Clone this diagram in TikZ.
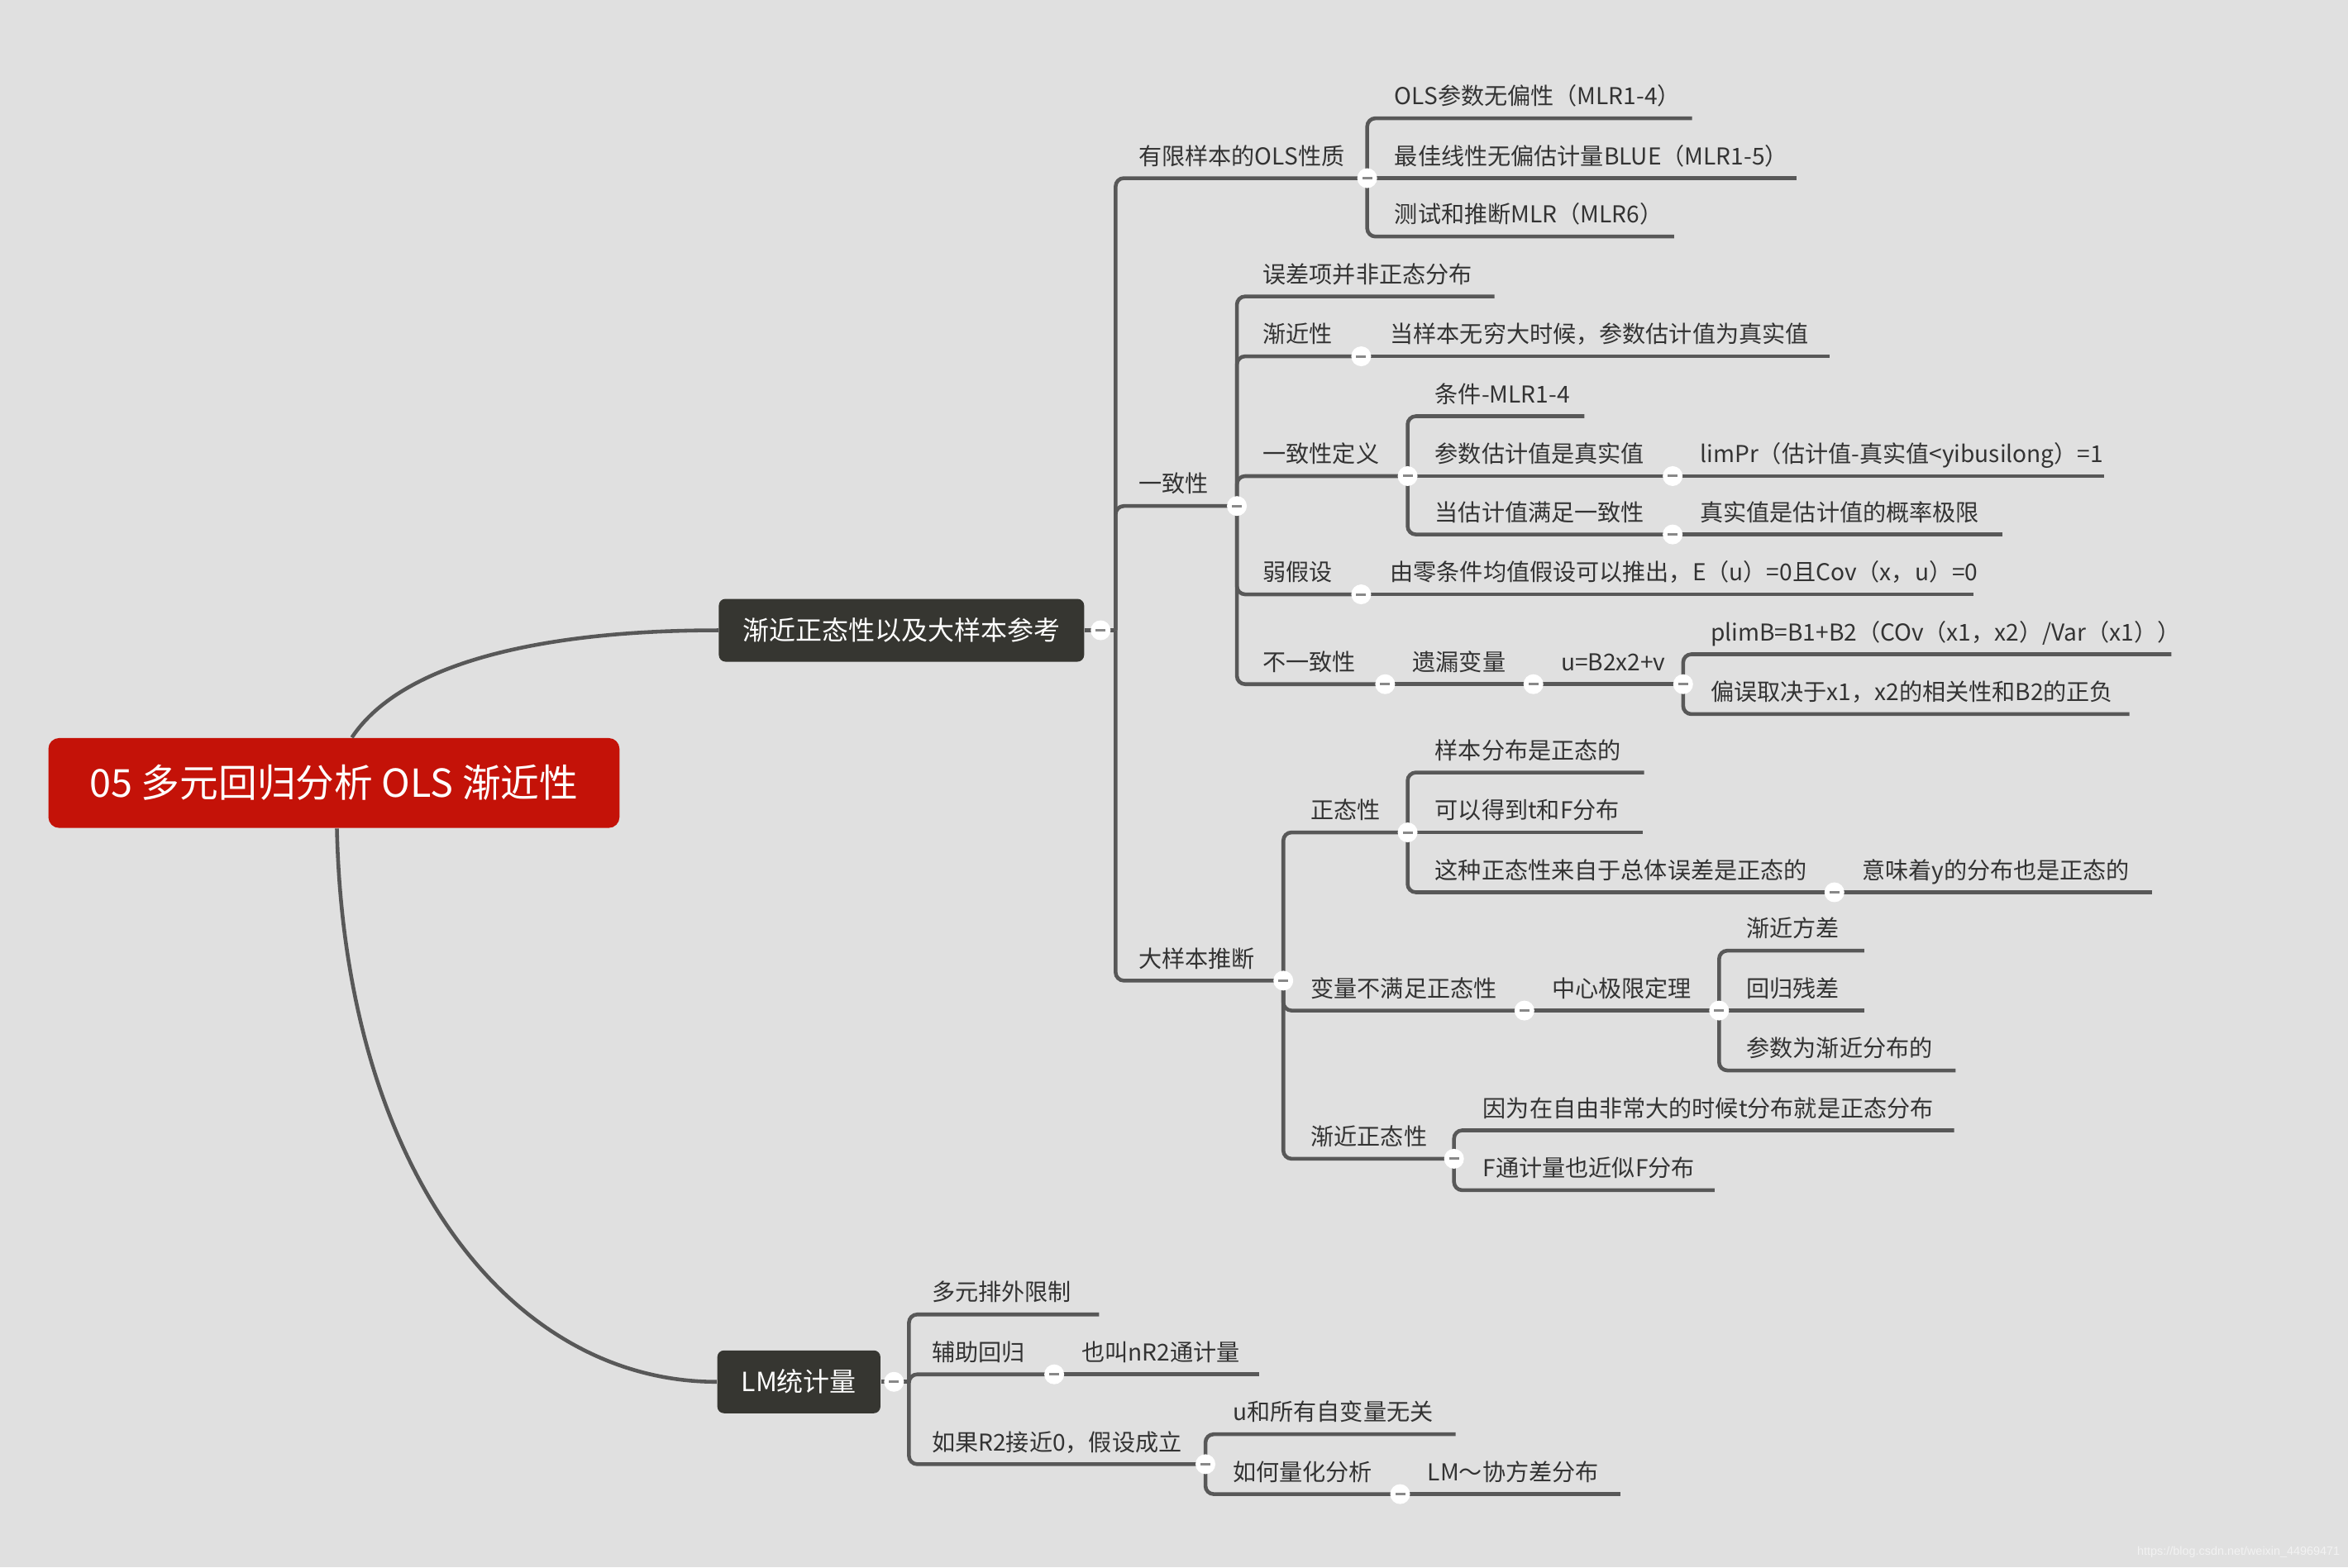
\documentclass[tikz,border=0pt]{standalone}
\usepackage{fontspec}
\setmainfont{Noto Sans CJK SC}
\newfontfamily\wmfont{Liberation Sans}
\usetikzlibrary{positioning}

\definecolor{bgcol}{RGB}{224,224,224}
\definecolor{linecol}{RGB}{88,88,88}
\definecolor{txtcol}{RGB}{51,51,51}
\definecolor{rootred}{RGB}{196,18,8}
\definecolor{topicdark}{RGB}{54,54,49}
\definecolor{dashcol}{RGB}{136,136,136}
\definecolor{wmcol}{RGB}{242,242,242}

\begin{document}
\begin{tikzpicture}[
  x=0.018112cm, y=-0.018112cm,
  root/.style={rectangle, rounded corners=0.13cm, fill=rootred, text=white,
               font=\fontsize{13.3}{16}\selectfont, minimum height=1.087cm, inner xsep=0.5cm},
  topic/.style={rectangle, rounded corners=0.08cm, fill=topicdark, text=white,
                font=\fontsize{9.1}{11}\selectfont, minimum height=0.76cm, inner xsep=0.29cm},
  lbl/.style={anchor=base west, inner sep=0pt, yshift=0.163cm, text=txtcol,
              font=\fontsize{8}{10}\selectfont},
  link/.style={draw=linecol, line width=1.3pt, rounded corners=0.1cm},
  curve/.style={draw=linecol, line width=1.3pt},
  mk/.style={circle, fill=white, minimum size=0.24cm, inner sep=0pt,
             path picture={\fill[dashcol] ([xshift=-0.06cm,yshift=-0.015cm]path picture bounding box.center)
                           rectangle ([xshift=0.06cm,yshift=0.015cm]path picture bounding box.center);}},
  wm/.style={text=wmcol, font=\wmfont\fontsize{4.1}{5}\selectfont, inner sep=0pt}
]
  % canvas
  \fill[bgcol] (0,0) rectangle (1568,1047);
  \useasboundingbox (0,0) rectangle (1568,1047);

  % central topic and main branches
  \node[root] (root) at (223,523) {05 多元回归分析 OLS 渐近性};
  \node[topic] (asym) at (602,421) {渐近正态性以及大样本参考};
  \node[topic] (lmstat) at (533.5,923) {LM统计量};

  \draw[curve] ([xshift=0.217cm]root.north) .. controls (270,440) and (370,421) .. (asym.west);
  \draw[curve] ([xshift=0.036cm]root.south) .. controls (230,780) and (340,923) .. (lmstat.west);

  % collapse points
  \coordinate (asym-m) at (735,421);   \coordinate (asym-t) at (745,421);
  \coordinate (lmstat-m) at (597,923); \coordinate (lmstat-t) at (607,923);

  % finite sample properties
  \node[lbl] (finite) at (760,119) {有限样本的OLS性质};      \coordinate (finite-m) at (913,119);
  \node[lbl] (unbiased) at (931,79) {OLS参数无偏性（MLR1-4）}; \coordinate (unbiased-e) at (1130,79);
  \node[lbl] (blue) at (931,119) {最佳线性无偏估计量BLUE（MLR1-5）}; \coordinate (blue-e) at (1200,119);
  \node[lbl] (testing) at (931,158) {测试和推断MLR（MLR6）};   \coordinate (testing-e) at (1118,158);

  % consistency
  \node[lbl] (consist) at (760,338) {一致性};                 \coordinate (consist-m) at (826,338);
  \node[lbl] (errnn) at (843,198) {误差项并非正态分布};        \coordinate (errnn-e) at (998,198);
  \node[lbl] (asymp) at (843,238) {渐近性};                   \coordinate (asymp-m) at (909,238);
  \node[lbl] (asympval) at (928,238) {当样本无穷大时候，参数估计值为真实值}; \coordinate (asympval-e) at (1222,238);
  \node[lbl] (cdef) at (843,318) {一致性定义};                \coordinate (cdef-m) at (940,318);
  \node[lbl] (cond) at (958,278) {条件-MLR1-4};               \coordinate (cond-e) at (1058,278);
  \node[lbl] (esttrue) at (958,318) {参数估计值是真实值};       \coordinate (esttrue-m) at (1117,318);
  \node[lbl] (limpr) at (1135,318) {limPr（估计值-真实值<yibusilong）=1}; \coordinate (limpr-e) at (1405,318);
  \node[lbl] (estcons) at (958,357) {当估计值满足一致性};       \coordinate (estcons-m) at (1117,357);
  \node[lbl] (plimit) at (1135,357) {真实值是估计值的概率极限}; \coordinate (plimit-e) at (1337,357);
  \node[lbl] (weak) at (843,397) {弱假设};                    \coordinate (weak-m) at (909,397);
  \node[lbl] (zeromean) at (928,397) {由零条件均值假设可以推出，E（u）=0且Cov（x，u）=0}; \coordinate (zeromean-e) at (1318,397);
  \node[lbl] (incons) at (843,457) {不一致性};                 \coordinate (incons-m) at (925,457);
  \node[lbl] (omit) at (943,457) {遗漏变量};                   \coordinate (omit-m) at (1024,457);
  \node[lbl] (ueq) at (1042,457) {u=B2x2+v};                  \coordinate (ueq-m) at (1124,457);
  \node[lbl] (plimb) at (1142,437) {plimB=B1+B2（COv（x1，x2）/Var（x1））}; \coordinate (plimb-e) at (1450,437);
  \node[lbl] (biasdep) at (1142,477) {偏误取决于x1，x2的相关性和B2的正负}; \coordinate (biasdep-e) at (1422,477);

  % large sample inference
  \node[lbl] (large) at (760,655) {大样本推断};                \coordinate (large-m) at (857,655);
  \node[lbl] (normal) at (875,556) {正态性};                  \coordinate (normal-m) at (940,556);
  \node[lbl] (sampnorm) at (958,516) {样本分布是正态的};       \coordinate (sampnorm-e) at (1098,516);
  \node[lbl] (tfdist) at (958,556) {可以得到t和F分布};         \coordinate (tfdist-e) at (1097,556);
  \node[lbl] (popnorm) at (958,596) {这种正态性来自于总体误差是正态的}; \coordinate (popnorm-m) at (1225,596);
  \node[lbl] (ynorm) at (1243,596) {意味着y的分布也是正态的};  \coordinate (ynorm-e) at (1437,596);
  \node[lbl] (nonnorm) at (875,675) {变量不满足正态性};         \coordinate (nonnorm-m) at (1018,675);
  \node[lbl] (clt) at (1036,675) {中心极限定理};               \coordinate (clt-m) at (1148,675);
  \node[lbl] (asvar) at (1166,635) {渐近方差};                 \coordinate (asvar-e) at (1245,635);
  \node[lbl] (resid) at (1166,675) {回归残差};                 \coordinate (resid-e) at (1245,675);
  \node[lbl] (pardist) at (1166,715) {参数为渐近分布的};       \coordinate (pardist-e) at (1306,715);
  \node[lbl] (asnorm) at (875,774) {渐近正态性};               \coordinate (asnorm-m) at (971,774);
  \node[lbl] (tnorm) at (990,755) {因为在自由非常大的时候t分布就是正态分布}; \coordinate (tnorm-e) at (1305,755);
  \node[lbl] (fapprox) at (990,795) {F通计量也近似F分布};       \coordinate (fapprox-e) at (1145,795);

  % LM statistic
  \node[lbl] (multi) at (622,878) {多元排外限制};               \coordinate (multi-e) at (734,878);
  \node[lbl] (aux) at (622,918) {辅助回归};                    \coordinate (aux-m) at (704,918);
  \node[lbl] (nrtwo) at (722,918) {也叫nR2通计量};              \coordinate (nrtwo-e) at (841,918);
  \node[lbl] (rzero) at (622,978) {如果R2接近0，假设成立};       \coordinate (rzero-m) at (805,978);
  \node[lbl] (uindep) at (823,958) {u和所有自变量无关};          \coordinate (uindep-e) at (972,958);
  \node[lbl] (quant) at (823,998) {如何量化分析};               \coordinate (quant-m) at (935,998);
  \node[lbl] (lmdist) at (953,998) {LM～协方差分布};             \coordinate (lmdist-e) at (1082,998);

  % branch lines
  \draw[link] (asym) -- (asym-m) -- (asym-t);
  \draw[link] (asym-t) |- (finite-m);
  \draw[link] (asym-t) |- (consist-m);
  \draw[link] (asym-t) |- (large-m);

  \draw[link] (finite-m) |- (unbiased-e);
  \draw[link] (finite-m) -- (blue-e);
  \draw[link] (finite-m) |- (testing-e);

  \draw[link] (consist-m) |- (errnn-e);
  \draw[link] (consist-m) |- (asymp-m);
  \draw[link] (consist-m) |- (cdef-m);
  \draw[link] (consist-m) |- (weak-m);
  \draw[link] (consist-m) |- (incons-m);
  \draw[link] (asymp-m) -- (asympval-e);
  \draw[link] (cdef-m) |- (cond-e);
  \draw[link] (cdef-m) -- (esttrue-m) -- (limpr-e);
  \draw[link] (cdef-m) |- (estcons-m);
  \draw[link] (estcons-m) -- (plimit-e);
  \draw[link] (weak-m) -- (zeromean-e);
  \draw[link] (incons-m) -- (omit-m) -- (ueq-m);
  \draw[link] (ueq-m) |- (plimb-e);
  \draw[link] (ueq-m) |- (biasdep-e);

  \draw[link] (large-m) |- (normal-m);
  \draw[link] (large-m) |- (nonnorm-m);
  \draw[link] (large-m) |- (asnorm-m);
  \draw[link] (normal-m) |- (sampnorm-e);
  \draw[link] (normal-m) -- (tfdist-e);
  \draw[link] (normal-m) |- (popnorm-m);
  \draw[link] (popnorm-m) -- (ynorm-e);
  \draw[link] (nonnorm-m) -- (clt-m);
  \draw[link] (clt-m) |- (asvar-e);
  \draw[link] (clt-m) -- (resid-e);
  \draw[link] (clt-m) |- (pardist-e);
  \draw[link] (asnorm-m) |- (tnorm-e);
  \draw[link] (asnorm-m) |- (fapprox-e);

  \draw[link] (lmstat) -- (lmstat-m) -- (lmstat-t);
  \draw[link] (lmstat-t) |- (multi-e);
  \draw[link] (lmstat-t) |- (aux-m);
  \draw[link] (lmstat-t) |- (rzero-m);
  \draw[link] (aux-m) -- (nrtwo-e);
  \draw[link] (rzero-m) |- (uindep-e);
  \draw[link] (rzero-m) |- (quant-m);
  \draw[link] (quant-m) -- (lmdist-e);

  % collapse markers
  \node[mk] at (asym-m) {};    \node[mk] at (lmstat-m) {};
  \node[mk] at (finite-m) {};  \node[mk] at (consist-m) {};  \node[mk] at (large-m) {};
  \node[mk] at (asymp-m) {};   \node[mk] at (cdef-m) {};     \node[mk] at (esttrue-m) {};
  \node[mk] at (estcons-m) {}; \node[mk] at (weak-m) {};     \node[mk] at (incons-m) {};
  \node[mk] at (omit-m) {};    \node[mk] at (ueq-m) {};
  \node[mk] at (normal-m) {};  \node[mk] at (popnorm-m) {};  \node[mk] at (nonnorm-m) {};
  \node[mk] at (clt-m) {};     \node[mk] at (asnorm-m) {};
  \node[mk] at (aux-m) {};     \node[mk] at (rzero-m) {};    \node[mk] at (quant-m) {};

  % watermark
  \node[wm, anchor=east] (wmark) at (1563,1037) {https://blog.csdn.net/weixin\_44969471};
\end{tikzpicture}
\end{document}
